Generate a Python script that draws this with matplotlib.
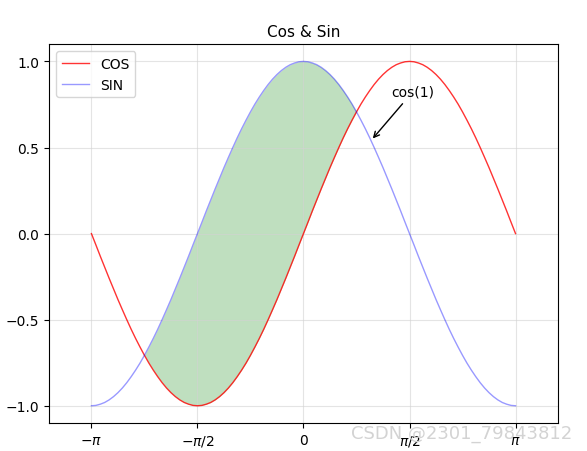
import numpy as np
import matplotlib.pyplot as plt

# sample positions, in steps of pi/48 from -pi to pi
x_steps = list(range(-48, 49))

# values (legend "COS")
red_vals = [0.0, -0.065, -0.131, -0.195, -0.259, -0.321, -0.383, -0.442, -0.5,
            -0.556, -0.609, -0.659, -0.707, -0.752, -0.793, -0.831, -0.866,
            -0.897, -0.924, -0.947, -0.966, -0.981, -0.991, -0.998, -1.0,
            -0.998, -0.991, -0.981, -0.966, -0.947, -0.924, -0.897, -0.866,
            -0.831, -0.793, -0.752, -0.707, -0.659, -0.609, -0.556, -0.5,
            -0.442, -0.383, -0.321, -0.259, -0.195, -0.131, -0.065, 0.0,
            0.065, 0.131, 0.195, 0.259, 0.321, 0.383, 0.442, 0.5, 0.556, 0.609,
            0.659, 0.707, 0.752, 0.793, 0.831, 0.866, 0.897, 0.924, 0.947,
            0.966, 0.981, 0.991, 0.998, 1.0,
            0.998, 0.991, 0.981, 0.966, 0.947, 0.924, 0.897, 0.866, 0.831,
            0.793, 0.752, 0.707, 0.659, 0.609, 0.556, 0.5, 0.442, 0.383, 0.321,
            0.259, 0.195, 0.131, 0.065, 0.0]

# values (legend "SIN")
blue_vals = [-1.0, -0.998, -0.991, -0.981, -0.966, -0.947, -0.924, -0.897,
             -0.866, -0.831, -0.793, -0.752, -0.707, -0.659, -0.609, -0.556,
             -0.5, -0.442, -0.383, -0.321, -0.259, -0.195, -0.131, -0.065, 0.0,
             0.065, 0.131, 0.195, 0.259, 0.321, 0.383, 0.442, 0.5, 0.556, 0.609,
             0.659, 0.707, 0.752, 0.793, 0.831, 0.866, 0.897, 0.924, 0.947,
             0.966, 0.981, 0.991, 0.998, 1.0,
             0.998, 0.991, 0.981, 0.966, 0.947, 0.924, 0.897, 0.866, 0.831,
             0.793, 0.752, 0.707, 0.659, 0.609, 0.556, 0.5, 0.442, 0.383, 0.321,
             0.259, 0.195, 0.131, 0.065, 0.0,
             -0.065, -0.131, -0.195, -0.259, -0.321, -0.383, -0.442, -0.5,
             -0.556, -0.609, -0.659, -0.707, -0.752, -0.793, -0.831, -0.866,
             -0.897, -0.924, -0.947, -0.966, -0.981, -0.991, -0.998, -1.0]

tick_pos = [-np.pi, -np.pi / 2, 0, np.pi / 2, np.pi]
tick_labels = [r'$-\pi$', r'$-\pi/2$', r'$0$', r'$\pi/2$', r'$\pi$']
ytick_pos = [-1.0, -0.5, 0.0, 0.5, 1.0]

x = np.array(x_steps) * np.pi / 48
y_red = np.array(red_vals)
y_blue = np.array(blue_vals)

fig = plt.figure(figsize=(5.87, 4.52), dpi=100)
ax = fig.add_axes([0.0835, 0.062, 0.867, 0.838])

# fill first so both curves sit on top of the green band
ax.fill_between(x, y_red, y_blue, where=(y_blue >= y_red), interpolate=True,
                color='green', alpha=0.25, linewidth=0, zorder=1)
ax.plot(x, y_red, color='red', alpha=0.8, linewidth=1.0, label='COS', zorder=2)
ax.plot(x, y_blue, color='blue', alpha=0.4, linewidth=1.0, label='SIN', zorder=2)

ax.annotate('cos(1)', xy=(1, 0.54), xytext=(1.3, 0.8), fontsize=10,
            arrowprops=dict(arrowstyle='->', color='black'))

ax.set_title('Cos & Sin', fontsize=11)
ax.set_xlim(-np.pi * 1.2, np.pi * 1.2)
ax.set_ylim(-1.1, 1.1)
ax.set_xticks(tick_pos)
ax.set_xticklabels(tick_labels)
ax.set_yticks(ytick_pos)
ax.grid(True, color='lightgray', alpha=0.6, linewidth=0.8, zorder=0)
ax.legend(loc='upper left')

fig.text(0.975, 0.02, 'CSDN @2301_79843812', ha='right', va='bottom',
         fontsize=13, color='lightgray')

fig.savefig('out.png', dpi=100)
